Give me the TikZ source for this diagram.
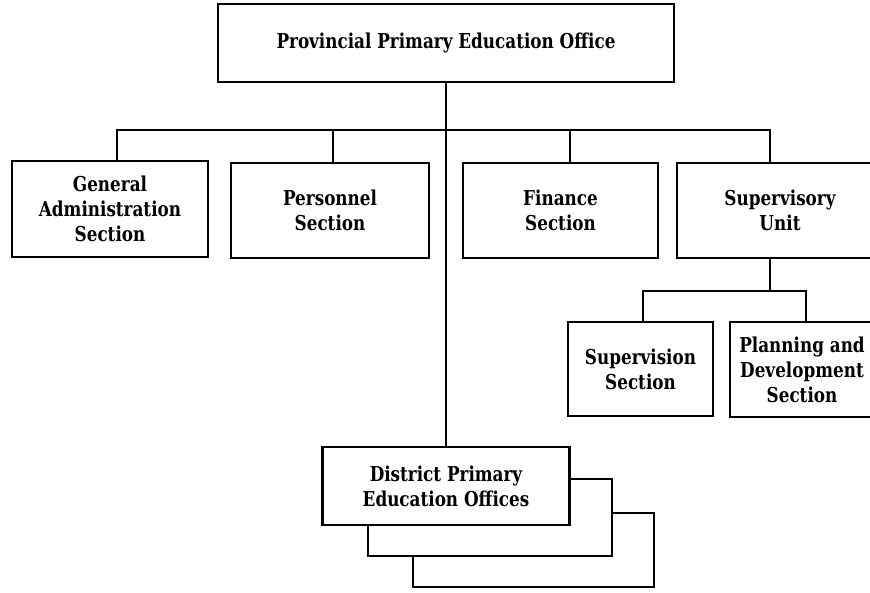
\documentclass[tikz,border=0pt]{standalone}
\usepackage{fontspec}
\setmainfont{DejaVu Serif}[BoldFeatures={FakeStretch=0.82}]
\begin{document}
\begin{tikzpicture}[x=1pt,y=-1pt,
  box/.style={draw, line width=2.2pt, fill=white, align=center, inner sep=0pt,
    font=\fontsize{20.5}{25}\selectfont\bfseries},
  link/.style={line width=2.2pt}]
\useasboundingbox (0,0) rectangle (870,592);
\begin{scope}
\clip (0,0) rectangle (870,592);

% levels of the horizontal buses
\coordinate (bus) at (0,130);
\coordinate (subbus) at (0,291);

% head office
\node[box, minimum width=456pt, minimum height=78pt] (top) at (446,43)
  {Provincial Primary Education Office};

% sections under the head office
\node[box, minimum width=196pt, minimum height=96pt] (ga) at (110,209)
  {General\\Administration\\Section};
\node[box, minimum width=198pt, minimum height=95pt] (pers) at (330,210.5)
  {Personnel\\Section};
\node[box, minimum width=195pt, minimum height=95pt] (fin) at (560.5,210.5)
  {Finance\\Section};
\node[box, minimum width=206pt, minimum height=95pt] (sup) at (780,210.5)
  {Supervisory\\Unit};

% sections under the supervisory unit
\node[box, minimum width=145pt, minimum height=94pt] (svn) at (640.5,369)
  {Supervision\\Section};
\node[box, minimum width=144pt, minimum height=95pt] (plan) at (802,369.5)
  {Planning and\\Development\\Section};

% connectors from the head office
\draw[link] ([xshift=7pt]ga.north) -- ([xshift=7pt]ga.north |- bus)
  -- ([xshift=-10pt]sup.north |- bus) -- ([xshift=-10pt]sup.north);
\draw[link] ([xshift=3pt]pers.north) -- ([xshift=3pt]pers.north |- bus);
\draw[link] ([xshift=9.5pt]fin.north) -- ([xshift=9.5pt]fin.north |- bus);

% connectors from the supervisory unit
\draw[link] ([xshift=-10pt]sup.south) -- ([xshift=-10pt]sup.south |- subbus);
\draw[link] ([xshift=2.5pt]svn.north) -- ([xshift=2.5pt]svn.north |- subbus)
  -- ([xshift=4pt]plan.north |- subbus) -- ([xshift=4pt]plan.north);

% stacked district offices
\node[box, minimum width=241pt, minimum height=74pt] (dist3) at (533.5,550) {};
\node[box, minimum width=244pt, minimum height=77pt] (dist2) at (490,517.5) {};
\node[box, minimum width=247pt, minimum height=78pt] (dist1) at (446,486)
  {District Primary\\Education Offices};

% main trunk down to the district offices
\draw[link] (top.south) -- (dist1.north);
\end{scope}
\end{tikzpicture}
\end{document}
